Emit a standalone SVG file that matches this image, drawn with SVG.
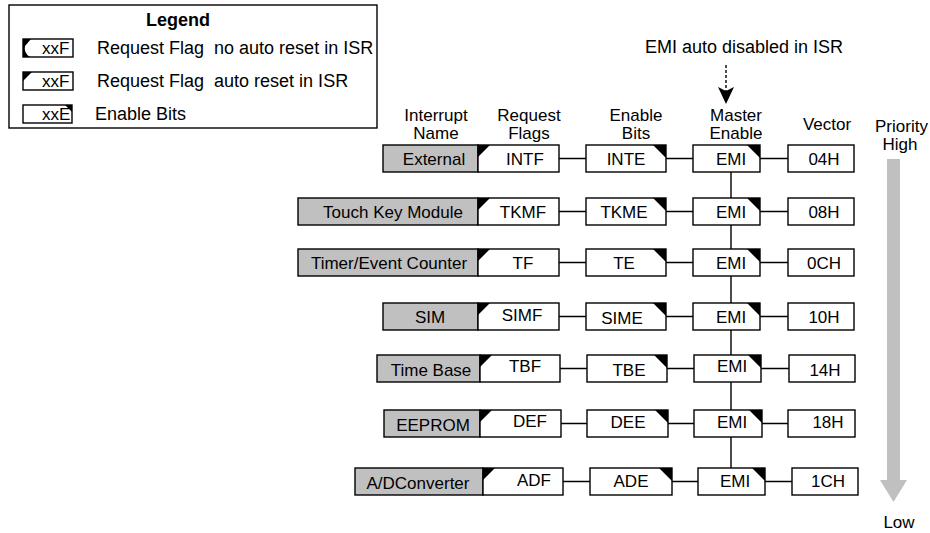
<svg xmlns="http://www.w3.org/2000/svg" width="930" height="533" viewBox="0 0 930 533">
<style>
.bx{fill:#fff;stroke:#000;stroke-width:1.4}
.gr{fill:#c0c0c0;stroke:#000;stroke-width:1.4}
.ln{stroke:#000;stroke-width:1.4;fill:none}
.t{font-family:"Liberation Sans",Arial,sans-serif;font-size:17px;fill:#000}
.l{font-size:18px;white-space:pre}
.m{text-anchor:middle}
.b{font-weight:bold}
</style>
<rect width="930" height="533" fill="#fff"/>
<g id="legend">
<rect x="9" y="5" width="368" height="123" class="bx"/>
<text x="178" y="26" class="t l m b">Legend</text>
<rect x="23" y="39" width="50" height="18" class="bx"/>
<path d="M23,39 H31 L25,46 Q23.5,53 30,57 H23 Z" fill="#000"/>
<text x="42" y="54" class="t">xxF</text>
<text x="97" y="54" class="t l">Request Flag  no auto reset in ISR</text>
<rect x="23" y="72" width="50" height="18" class="bx"/>
<path d="M23,72 H32 L23,81 Z" fill="#000"/>
<text x="42" y="87" class="t">xxF</text>
<text x="97" y="87" class="t l">Request Flag  auto reset in ISR</text>
<rect x="23" y="105" width="49" height="18" class="bx"/>
<path d="M65,105 H72 V112 Z" fill="#000"/>
<text x="42" y="120" class="t">xxE</text>
<text x="95" y="120" class="t l">Enable Bits</text>
</g>
<g id="headers">
<text x="645" y="53" class="t l">EMI auto disabled in ISR</text>
<text x="436" y="121" class="t m">Interrupt</text>
<text x="436" y="139" class="t m">Name</text>
<text x="529" y="121" class="t m">Request</text>
<text x="529" y="139" class="t m">Flags</text>
<text x="636" y="121" class="t m">Enable</text>
<text x="636" y="139" class="t m">Bits</text>
<text x="736" y="121" class="t m">Master</text>
<text x="736" y="139" class="t m">Enable</text>
<text x="827" y="130" class="t m">Vector</text>
<text x="875" y="132" class="t">Priority</text>
<text x="900" y="150" class="t m">High</text>
<text x="899" y="528" class="t m">Low</text>
</g>
<g id="priority-arrow">
<rect x="887" y="159" width="13" height="322" fill="#c0c0c0"/>
<path d="M880,480 H907 L893.5,502 Z" fill="#c0c0c0"/>
</g>
<g id="connectors">
<line x1="726" y1="65" x2="726" y2="92" class="ln" stroke-dasharray="3,2"/>
<path d="M718,87 L726,91 L734,87 L726,104 Z" fill="#000"/>
<line x1="731" y1="172" x2="731" y2="468" class="ln"/>
<path class="ln" d="M559,158.5 H586 M666,158.5 H693 M760,158.5 H788"/>
<path class="ln" d="M559,211.5 H586 M666,211.5 H693 M760,211.5 H788"/>
<path class="ln" d="M559,262.5 H586 M666,262.5 H693 M760,262.5 H788"/>
<path class="ln" d="M559,316.5 H586 M666,316.5 H693 M760,316.5 H788"/>
<path class="ln" d="M560,368.5 H587 M667,368.5 H694 M761,368.5 H789"/>
<path class="ln" d="M561,423.5 H587 M668,423.5 H694 M762,423.5 H788"/>
<path class="ln" d="M563,481.5 H590 M672,481.5 H698 M765,481.5 H792"/>
</g>
<!-- Row 1 -->
<g id="name-external"><rect x="383" y="145" width="95" height="27" class="gr"/><text x="434" y="164.5" class="t m">External</text></g>
<g id="flag-intf"><rect x="478" y="145" width="81" height="27" class="bx"/><path d="M478,145 H490 L478,157 Z"/><text x="525" y="164.5" class="t m">INTF</text></g>
<g id="en-inte"><rect x="586" y="145" width="80" height="27" class="bx"/><path d="M653,145 H666 V158 Z"/><text x="626" y="164.5" class="t m">INTE</text></g>
<g id="emi-1"><rect x="693" y="145" width="67" height="27" class="bx"/><path d="M747,145 H760 V158 Z"/><text x="731" y="164.5" class="t m">EMI</text></g>
<g id="vec-04h"><rect x="788" y="145" width="66" height="27" class="bx"/><text x="824" y="164.5" class="t m">04H</text></g>
<!-- Row 2 -->
<g id="name-touchkey"><rect x="298" y="198" width="180" height="27" class="gr"/><text x="393" y="217.5" class="t m">Touch Key Module</text></g>
<g id="flag-tkmf"><rect x="478" y="198" width="81" height="27" class="bx"/><path d="M478,198 H490 L478,210 Z"/><text x="523" y="217.5" class="t m">TKMF</text></g>
<g id="en-tkme"><rect x="586" y="198" width="80" height="27" class="bx"/><path d="M653,198 H666 V211 Z"/><text x="624" y="217.5" class="t m">TKME</text></g>
<g id="emi-2"><rect x="693" y="198" width="67" height="27" class="bx"/><path d="M747,198 H760 V211 Z"/><text x="731" y="217.5" class="t m">EMI</text></g>
<g id="vec-08h"><rect x="788" y="198" width="66" height="27" class="bx"/><text x="824" y="217.5" class="t m">08H</text></g>
<!-- Row 3 -->
<g id="name-timer"><rect x="298" y="249" width="180" height="27" class="gr"/><text x="389" y="268.5" class="t m">Timer/Event Counter</text></g>
<g id="flag-tf"><rect x="478" y="249" width="81" height="27" class="bx"/><path d="M478,249 H490 L478,261 Z"/><text x="523" y="268.5" class="t m">TF</text></g>
<g id="en-te"><rect x="586" y="249" width="80" height="27" class="bx"/><path d="M653,249 H666 V262 Z"/><text x="624" y="268.5" class="t m">TE</text></g>
<g id="emi-3"><rect x="693" y="249" width="67" height="27" class="bx"/><path d="M747,249 H760 V262 Z"/><text x="731" y="268.5" class="t m">EMI</text></g>
<g id="vec-0ch"><rect x="788" y="249" width="66" height="27" class="bx"/><text x="824" y="268.5" class="t m">0CH</text></g>
<!-- Row 4 -->
<g id="name-sim"><rect x="383" y="303" width="95" height="27" class="gr"/><text x="430" y="322.5" class="t m">SIM</text></g>
<g id="flag-simf"><rect x="478" y="303" width="81" height="27" class="bx"/><path d="M478,303 H490 L478,315 Z"/><text x="522" y="320.5" class="t m">SIMF</text></g>
<g id="en-sime"><rect x="586" y="303" width="80" height="27" class="bx"/><path d="M653,303 H666 V316 Z"/><text x="622" y="323.5" class="t m">SIME</text></g>
<g id="emi-4"><rect x="693" y="303" width="67" height="27" class="bx"/><path d="M747,303 H760 V316 Z"/><text x="731" y="322.5" class="t m">EMI</text></g>
<g id="vec-10h"><rect x="788" y="303" width="66" height="27" class="bx"/><text x="824" y="322.5" class="t m">10H</text></g>
<!-- Row 5 -->
<g id="name-timebase"><rect x="377" y="355" width="103" height="27" class="gr"/><text x="431" y="376" class="t m">Time Base</text></g>
<g id="flag-tbf"><rect x="480" y="355" width="80" height="27" class="bx"/><path d="M480,355 H492 L480,367 Z"/><text x="525" y="372" class="t m">TBF</text></g>
<g id="en-tbe"><rect x="587" y="355" width="80" height="27" class="bx"/><path d="M654,355 H667 V368 Z"/><text x="629" y="376" class="t m">TBE</text></g>
<g id="emi-5"><rect x="694" y="355" width="67" height="27" class="bx"/><path d="M748,355 H761 V368 Z"/><text x="732" y="372" class="t m">EMI</text></g>
<g id="vec-14h"><rect x="789" y="355" width="66" height="27" class="bx"/><text x="825" y="376" class="t m">14H</text></g>
<!-- Row 6 -->
<g id="name-eeprom"><rect x="384" y="410" width="96" height="27" class="gr"/><text x="433" y="431" class="t m">EEPROM</text></g>
<g id="flag-def"><rect x="480" y="410" width="81" height="27" class="bx"/><path d="M480,410 H492 L480,422 Z"/><text x="530" y="427" class="t m">DEF</text></g>
<g id="en-dee"><rect x="587" y="410" width="81" height="27" class="bx"/><path d="M655,410 H668 V423 Z"/><text x="628" y="428" class="t m">DEE</text></g>
<g id="emi-6"><rect x="694" y="410" width="68" height="27" class="bx"/><path d="M749,410 H762 V423 Z"/><text x="732" y="428" class="t m">EMI</text></g>
<g id="vec-18h"><rect x="788" y="410" width="67" height="27" class="bx"/><text x="828" y="428" class="t m">18H</text></g>
<!-- Row 7 -->
<g id="name-adc"><rect x="355" y="468" width="128" height="27" class="gr"/><text x="418" y="489" class="t m">A/DConverter</text></g>
<g id="flag-adf"><rect x="483" y="468" width="80" height="27" class="bx"/><path d="M483,468 H495 L483,480 Z"/><text x="534" y="486" class="t m">ADF</text></g>
<g id="en-ade"><rect x="590" y="468" width="82" height="27" class="bx"/><path d="M659,468 H672 V481 Z"/><text x="631" y="487" class="t m">ADE</text></g>
<g id="emi-7"><rect x="698" y="468" width="67" height="27" class="bx"/><path d="M752,468 H765 V481 Z"/><text x="735" y="487" class="t m">EMI</text></g>
<g id="vec-1ch"><rect x="792" y="468" width="66" height="27" class="bx"/><text x="828" y="487" class="t m">1CH</text></g>
</svg>
